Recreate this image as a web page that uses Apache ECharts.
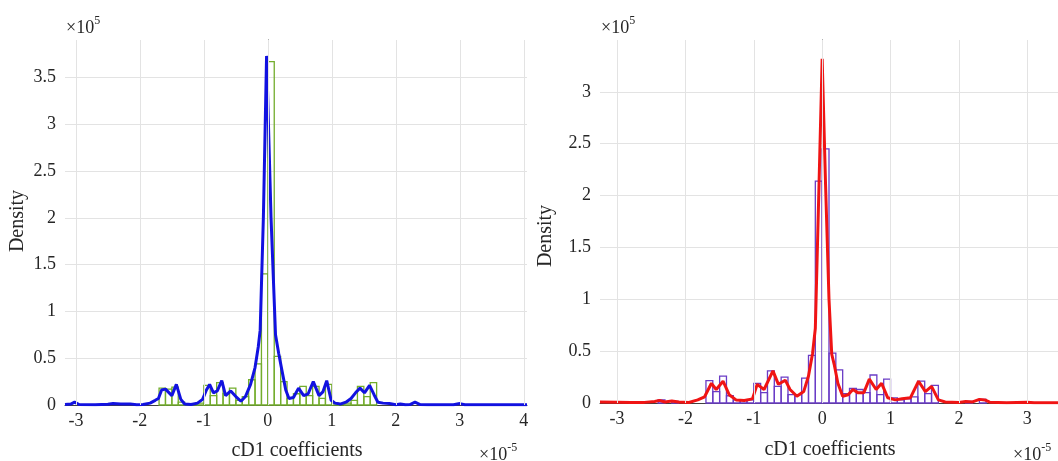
<!DOCTYPE html>
<html>
<head>
<meta charset="utf-8">
<script src="https://cdn.jsdelivr.net/npm/echarts@6/dist/echarts.min.js"></script>
<style>
  html, body { margin: 0; padding: 0; background: #ffffff; }
  #chart { width: 1058px; height: 461px; }
</style>
</head>
<body>
<div id="chart"></div>
<script>
// Histogram bin width (in units of 1e-5)
const binWidth = 0.1;

// Left panel: histogram bins (left edges) and densities (x1e5)
const leftBinStarts  = [-1.7, -1.6, -1.5, -1.4, -1.3, -1.2, -1.1, -1.0, -0.9, -0.8, -0.7, -0.6, -0.5, -0.4, -0.3, -0.2, -0.1,
                        0.0, 0.1, 0.2, 0.3, 0.4, 0.5, 0.6, 0.7, 0.8, 0.9, 1.0, 1.1, 1.2, 1.3, 1.4, 1.5, 1.6];
const leftBinHeights = [0.18, 0.17, 0.19, 0.03, 0.01, 0.01, 0.02, 0.21, 0.10, 0.24, 0.12, 0.18, 0.05, 0.09, 0.27, 0.44, 1.40,
                        3.67, 0.52, 0.25, 0.07, 0.12, 0.20, 0.10, 0.20, 0.07, 0.22, 0.02, 0.01, 0.02, 0.05, 0.20, 0.09, 0.24];

// Left panel: density estimate curve
const leftKdeX = [-3.17, -3.08, -3.02, -2.95, -2.7, -2.5, -2.42, -2.3, -2.15, -2.05, -1.95, -1.84, -1.76, -1.71, -1.66, -1.6,
                  -1.5, -1.43, -1.36, -1.3, -1.2, -1.1, -1.02, -0.96, -0.91, -0.85, -0.79, -0.72, -0.66, -0.58, -0.5, -0.42,
                  -0.35, -0.27, -0.2, -0.15, -0.12, -0.07, -0.02, 0.05, 0.12, 0.17, 0.22, 0.28, 0.33, 0.4, 0.48, 0.56,
                  0.63, 0.71, 0.8, 0.86, 0.92, 0.99, 1.05, 1.13, 1.22, 1.3, 1.37, 1.44, 1.51, 1.59, 1.66, 1.72,
                  1.8, 1.9, 2.0, 2.07, 2.15, 2.22, 2.3, 2.38, 2.5, 2.9, 3.0, 3.08, 4.05];
const leftKdeY = [0.005, 0.01, 0.03, 0.005, 0.003, 0.008, 0.015, 0.01, 0.012, 0.003, 0.005, 0.02, 0.05, 0.07, 0.16, 0.17,
                  0.10, 0.22, 0.06, 0.01, 0.005, 0.02, 0.06, 0.16, 0.22, 0.13, 0.15, 0.26, 0.10, 0.15, 0.09, 0.04,
                  0.09, 0.22, 0.40, 0.62, 0.80, 2.0, 3.73, 2.0, 0.75, 0.55, 0.37, 0.16, 0.07, 0.08, 0.18, 0.10,
                  0.12, 0.25, 0.10, 0.14, 0.26, 0.05, 0.02, 0.01, 0.03, 0.07, 0.13, 0.18, 0.13, 0.21, 0.11, 0.03,
                  0.02, 0.015, 0.003, 0.01, 0.003, 0.005, 0.03, 0.005, 0.002, 0.002, 0.015, 0.002, 0.003];

// Right panel: histogram bins (left edges) and densities (x1e5)
const rightBinStarts  = [-2.4, -2.2, -1.7, -1.6, -1.5, -1.4, -1.3, -1.2, -1.1, -1.0, -0.9, -0.8, -0.7, -0.6, -0.5, -0.4, -0.3, -0.2, -0.1,
                         0.0, 0.1, 0.2, 0.3, 0.4, 0.5, 0.6, 0.7, 0.8, 0.9, 1.0, 1.1, 1.2, 1.3, 1.4, 1.5, 1.6, 2.1, 2.3];
const rightBinHeights = [0.03, 0.015, 0.215, 0.11, 0.26, 0.07, 0.03, 0.03, 0.03, 0.19, 0.10, 0.31, 0.16, 0.25, 0.08, 0.08, 0.24, 0.46, 2.14,
                         2.45, 0.48, 0.32, 0.09, 0.14, 0.13, 0.10, 0.27, 0.08, 0.23, 0.05, 0.03, 0.04, 0.06, 0.21, 0.09, 0.17, 0.015, 0.035];

// Right panel: density estimate curve
const rightKdeX = [-3.25, -3.0, -2.8, -2.6, -2.45, -2.38, -2.3, -2.2, -2.1, -1.95, -1.82, -1.72, -1.62, -1.55, -1.45, -1.36,
                   -1.26, -1.14, -1.02, -0.95, -0.85, -0.72, -0.64, -0.54, -0.47, -0.37, -0.27, -0.2, -0.14, -0.1, -0.05, 0.0,
                   0.05, 0.1, 0.14, 0.18, 0.23, 0.3, 0.38, 0.45, 0.52, 0.61, 0.69, 0.79, 0.87, 0.96, 1.07, 1.17,
                   1.29, 1.41, 1.51, 1.6, 1.7, 1.8, 2.0, 2.1, 2.2, 2.3, 2.38, 2.45, 2.7, 3.0, 3.1, 3.45];
const rightKdeY = [0.01, 0.008, 0.005, 0.006, 0.015, 0.025, 0.01, 0.02, 0.01, 0.005, 0.03, 0.06, 0.19, 0.13, 0.21, 0.08,
                   0.03, 0.025, 0.04, 0.18, 0.13, 0.31, 0.18, 0.22, 0.13, 0.065, 0.11, 0.26, 0.48, 0.72, 2.0, 3.32,
                   2.1, 1.0, 0.47, 0.36, 0.19, 0.065, 0.08, 0.13, 0.10, 0.10, 0.23, 0.13, 0.19, 0.05, 0.03, 0.04,
                   0.05, 0.21, 0.11, 0.16, 0.03, 0.01, 0.005, 0.015, 0.01, 0.035, 0.03, 0.008, 0.003, 0.008, 0.002, 0.003];

// Axis ticks
const leftXTicks  = [-3, -2, -1, 0, 1, 2, 3, 4];
const rightXTicks = [-3, -2, -1, 0, 1, 2, 3];
const leftYTicks  = [0, 0.5, 1, 1.5, 2, 2.5, 3, 3.5];
const rightYTicks = [0, 0.5, 1, 1.5, 2, 2.5, 3];

const FONT = '"Liberation Serif", "Times New Roman", serif';
const TEXT_COLOR = '#262626';
const GRID_COLOR = '#e3e3e3';

function binData(starts, heights) {
  return starts.map((s, i) => [s, s + binWidth, heights[i]]);
}
function curveData(xs, ys) {
  return xs.map((x, i) => [x, ys[i]]);
}
function histRenderer(color) {
  return function (params, api) {
    const p0 = api.coord([api.value(0), 0]);
    const p1 = api.coord([api.value(1), api.value(2)]);
    return {
      type: 'rect',
      shape: { x: p0[0], y: p1[1], width: p1[0] - p0[0], height: p0[1] - p1[1] },
      style: { fill: 'none', stroke: color, lineWidth: 1.3 }
    };
  };
}
// Vertical grid lines with their tick labels under the axis
function xGridMarks(ticks) {
  return {
    silent: true,
    symbol: ['none', 'none'],
    animation: false,
    lineStyle: { color: GRID_COLOR, type: 'solid', width: 1 },
    label: {
      show: true, position: 'start', distance: 7,
      color: TEXT_COLOR, fontFamily: FONT, fontSize: 18,
      formatter: p => String(p.value)
    },
    emphasis: { disabled: true },
    data: ticks.map(t => ({ xAxis: t }))
  };
}
function yAxisFor(gridIndex, max, ticks) {
  return {
    type: 'value', gridIndex, min: 0, max, interval: 0.5,
    axisLine: { show: true, lineStyle: { color: '#404040', width: 1 } },
    axisTick: { show: false },
    axisLabel: {
      color: TEXT_COLOR, fontFamily: FONT, fontSize: 18, margin: 9, showMaxLabel: false,
      formatter: v => (ticks.indexOf(v) >= 0 ? String(v) : '')
    },
    splitLine: { show: true, showMaxLine: false, lineStyle: { color: GRID_COLOR, width: 1 } }
  };
}
function xAxisFor(gridIndex, min, max) {
  return {
    type: 'value', gridIndex, min, max,
    axisLine: { show: true, onZero: false, lineStyle: { color: '#404040', width: 1 } },
    axisTick: { show: false },
    axisLabel: { show: false },
    splitLine: { show: false }
  };
}
function sciLabel(x, y, exp) {
  return {
    type: 'text', left: x, top: y, silent: true,
    style: {
      text: '{b|×10}{s|' + exp + '}',
      rich: {
        b: { fontFamily: FONT, fontSize: 18, fill: TEXT_COLOR, verticalAlign: 'bottom' },
        s: { fontFamily: FONT, fontSize: 12, fill: TEXT_COLOR, verticalAlign: 'top', padding: [0, 0, 10, 0] }
      }
    }
  };
}
function textLabel(x, y, text, rotation) {
  return {
    type: 'text', x, y, rotation: rotation || 0, silent: true,
    style: { text, fontFamily: FONT, fontSize: 20, fill: TEXT_COLOR, align: 'center', verticalAlign: 'middle' }
  };
}

const chart = echarts.init(document.getElementById('chart'), null, { renderer: 'canvas' });
chart.setOption({
  animation: false,
  backgroundColor: '#ffffff',
  grid: [
    { left: 65, top: 40, width: 462, bottom: 56, containLabel: false },
    { left: 600, top: 40, right: -6, bottom: 58, containLabel: false }
  ],
  xAxis: [xAxisFor(0, -3.17, 4.05), xAxisFor(1, -3.25, 3.45)],
  yAxis: [yAxisFor(0, 3.9, leftYTicks), yAxisFor(1, 3.5, rightYTicks)],
  series: [
    {
      type: 'custom', name: 'cD1 histogram', xAxisIndex: 0, yAxisIndex: 0, z: 2,
      renderItem: histRenderer('#73ad2c'),
      encode: { x: [0, 1], y: 2 },
      data: binData(leftBinStarts, leftBinHeights),
      markLine: xGridMarks(leftXTicks)
    },
    {
      type: 'line', name: 'cD1 density', xAxisIndex: 0, yAxisIndex: 0, z: 3,
      showSymbol: false, symbol: 'none',
      lineStyle: { color: '#1212e0', width: 3 },
      data: curveData(leftKdeX, leftKdeY)
    },
    {
      type: 'custom', name: 'cD1 histogram', xAxisIndex: 1, yAxisIndex: 1, z: 2,
      renderItem: histRenderer('#6a3cc6'),
      encode: { x: [0, 1], y: 2 },
      data: binData(rightBinStarts, rightBinHeights),
      markLine: xGridMarks(rightXTicks)
    },
    {
      type: 'line', name: 'cD1 density', xAxisIndex: 1, yAxisIndex: 1, z: 3,
      showSymbol: false, symbol: 'none',
      lineStyle: { color: '#f01414', width: 3 },
      data: curveData(rightKdeX, rightKdeY)
    }
  ],
  graphic: [
    sciLabel(66, 15, '5'),
    sciLabel(601, 15, '5'),
    sciLabel(479, 442, '-5'),
    sciLabel(1013, 442, '-5'),
    textLabel(297, 451, 'cD1 coefficients'),
    textLabel(830, 450, 'cD1 coefficients'),
    textLabel(18, 221, 'Density', Math.PI / 2),
    textLabel(546, 236, 'Density', Math.PI / 2)
  ]
});
</script>
</body>
</html>
